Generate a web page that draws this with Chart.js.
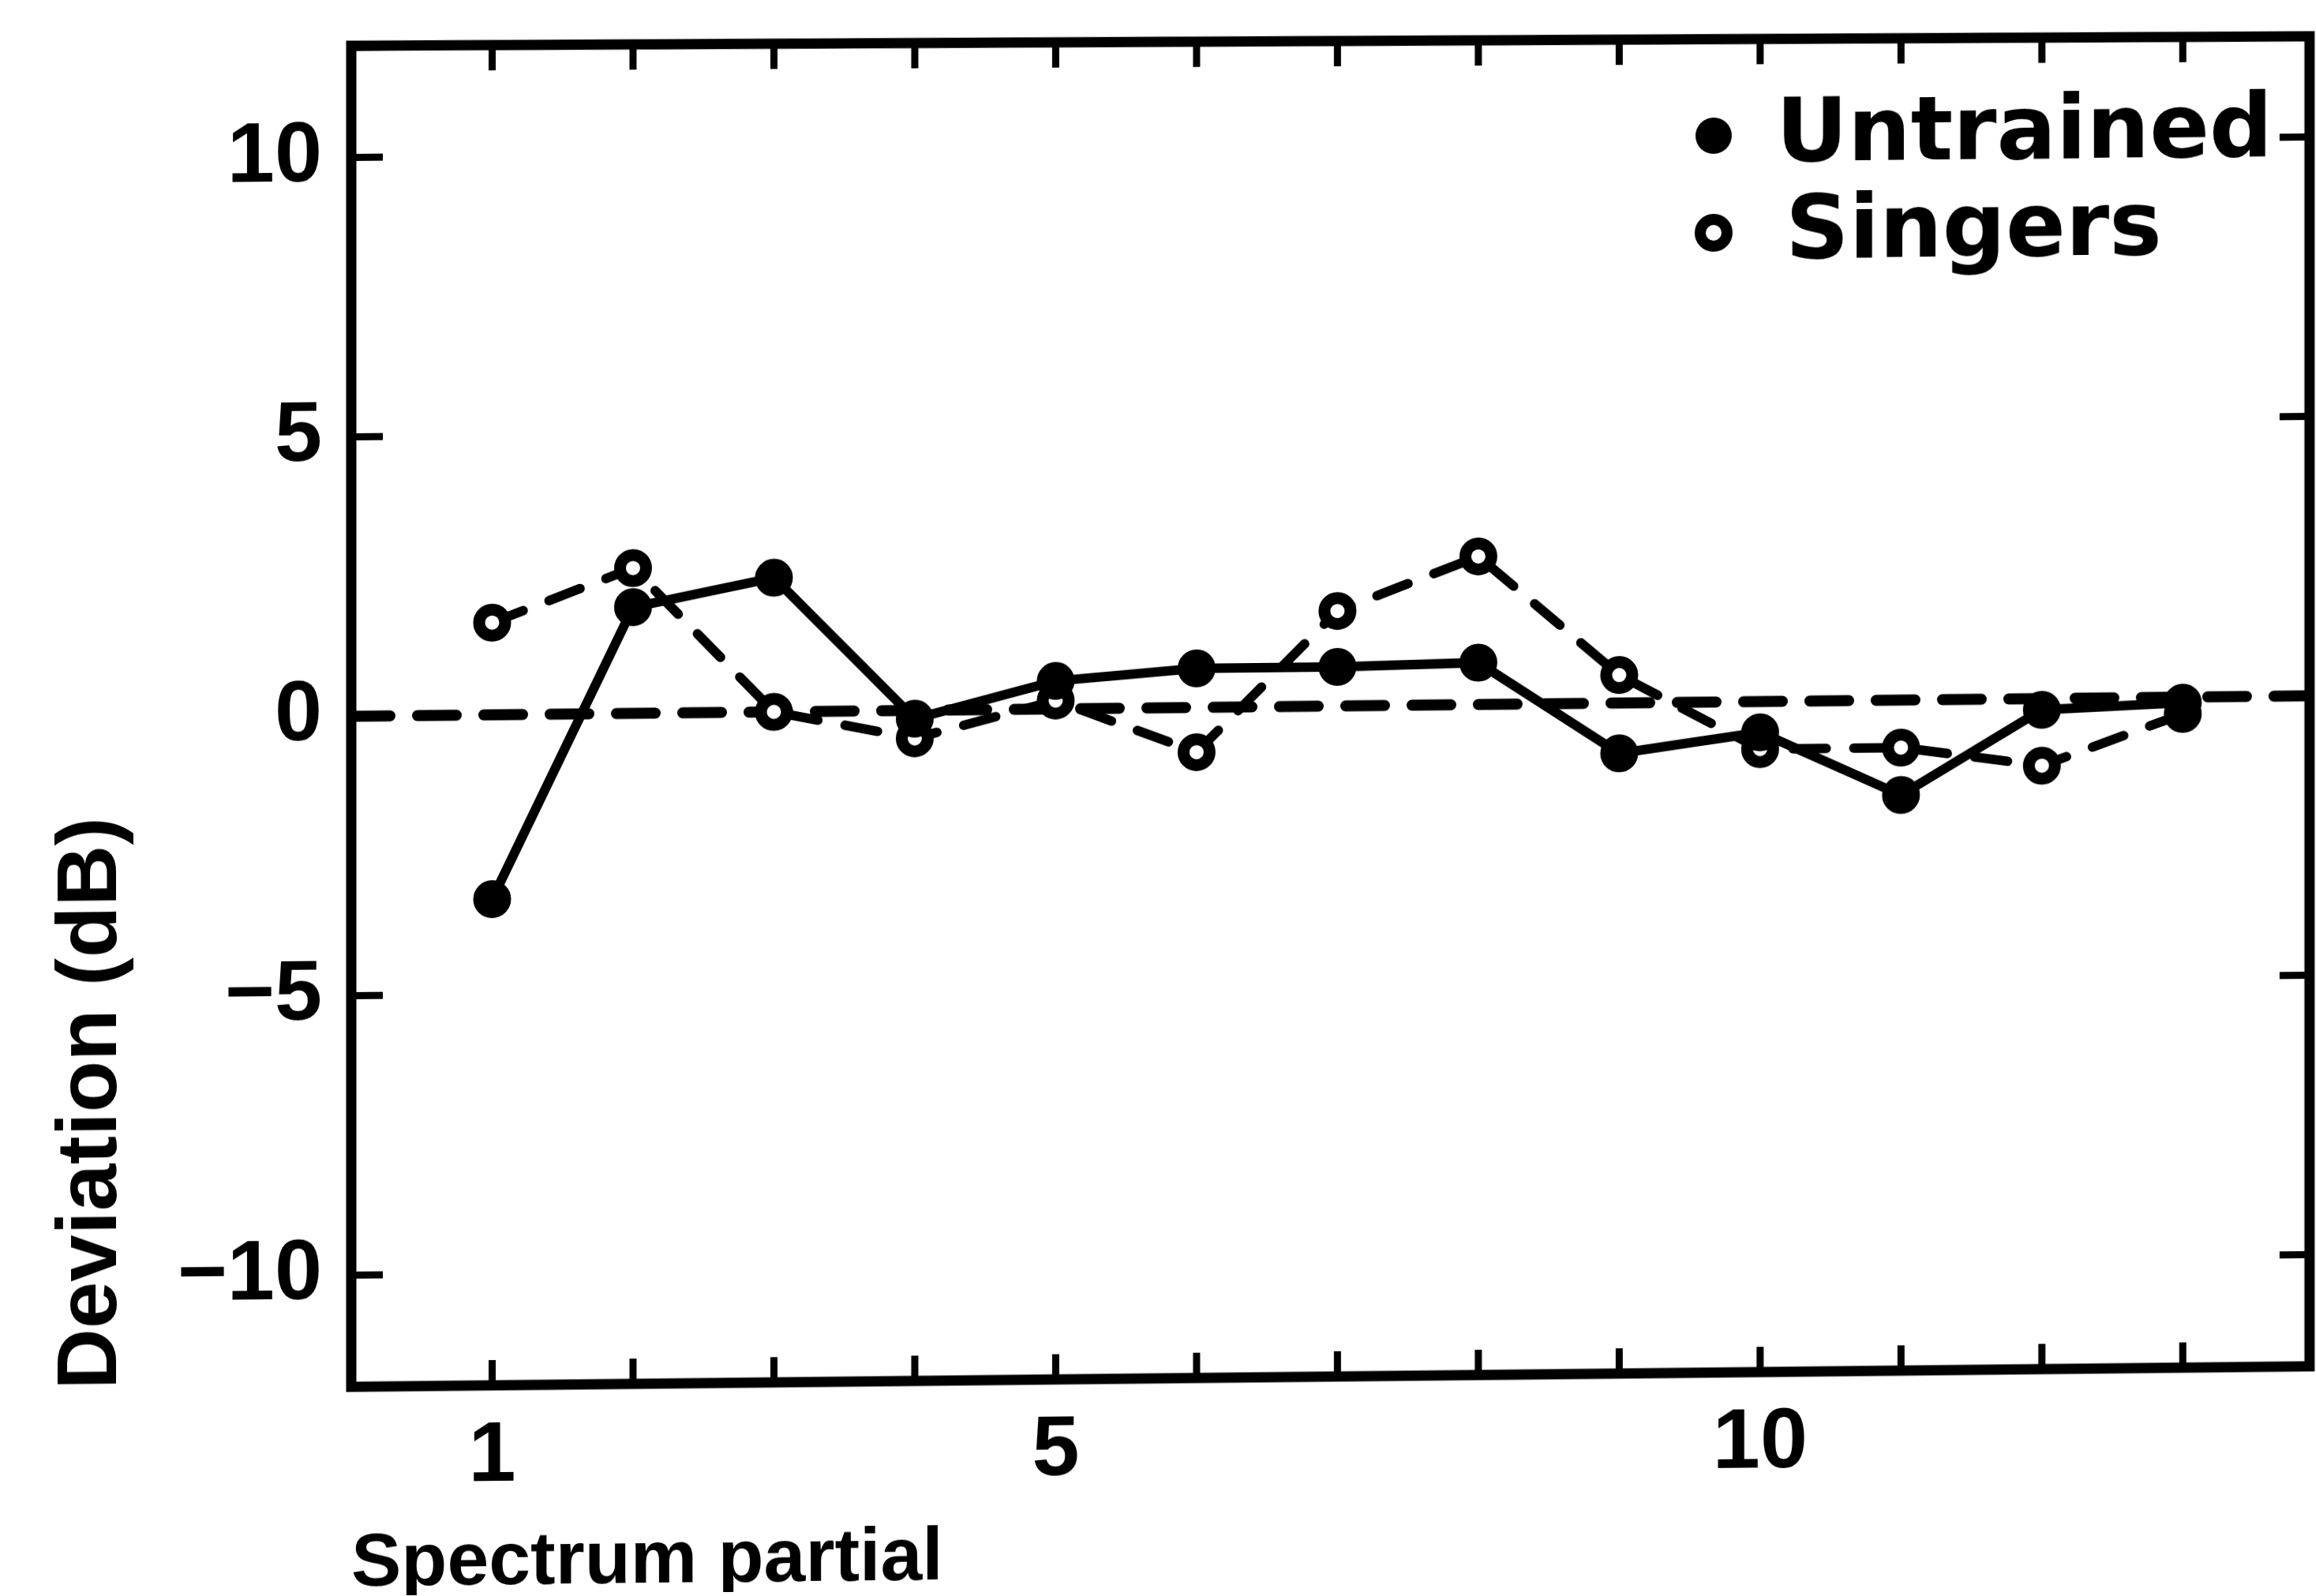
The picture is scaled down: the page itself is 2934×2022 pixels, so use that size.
<!DOCTYPE html>
<html>
<head>
<meta charset="utf-8">
<title>Deviation by spectrum partial</title>
<style>
  html, body { margin: 0; padding: 0; background: #fff; overflow: hidden; }
  #wrap { position: absolute; left: 0; top: 0; width: 2934px; height: 2022px;
          transform-origin: 445px 907px; transform: skewY(-0.6deg); }
  canvas { display: block; }
</style>
<script src="https://cdn.jsdelivr.net/npm/chart.js@4.4.1/dist/chart.umd.min.js"></script>
</head>
<body>
<div id="wrap"><canvas id="chart" width="2934" height="2022"></canvas></div>
<script>
// Spectrum partial numbers (x) and level deviation in dB (y) for each group
const partials  = [1, 2, 3, 4, 5, 6, 7, 8, 9, 10, 11, 12, 13];
const untrained = [-3.3, 1.9, 2.4, -0.15, 0.5, 0.7, 0.7, 0.75, -0.9, -0.55, -1.7, -0.2, -0.1];
const singers   = [1.65, 2.6, 0.0, -0.5, 0.15, -0.8, 1.7, 2.65, 0.5, -0.85, -0.85, -1.2, -0.3];
const seriesNames = ['Untrained', 'Singers'];

// Axis ranges and ticks
const xRange = [0, 13.9];
const yRange = [-12, 12];
const yTickValues = [-10, -5, 0, 5, 10];
const xLabelledTicks = [1, 5, 10];
const referenceLevel = 0;

const toPoints = vals => vals.map((v, i) => ({ x: partials[i], y: v }));

// Frame with inward ticks on all four sides, plus the key in the upper right
const framePlugin = {
  id: 'frameAndKey',
  afterDraw(chart) {
    const { ctx, chartArea: a, scales: { x, y } } = chart;
    // the printed top rule sags slightly toward the right
    const topDrop = 14;
    const topAt = px => a.top + topDrop * (px - a.left) / (a.right - a.left);

    ctx.save();
    ctx.strokeStyle = '#000';
    ctx.lineCap = 'butt';
    const seg = (x1, y1, x2, y2) => { ctx.beginPath(); ctx.moveTo(x1, y1); ctx.lineTo(x2, y2); ctx.stroke(); };

    ctx.lineWidth = 9;
    x.ticks.forEach(t => {
      const px = x.getPixelForValue(t.value);
      seg(px, a.bottom, px, a.bottom - 32);
      seg(px, topAt(px), px, topAt(px) + 32);
    });
    y.ticks.forEach(t => {
      const py = y.getPixelForValue(t.value);
      seg(a.left, py, a.left + 40, py);
      seg(a.right, py, a.right - 38, py);
    });

    ctx.lineWidth = 13;
    ctx.lineJoin = 'miter';
    ctx.beginPath();
    ctx.moveTo(a.left, a.top);
    ctx.lineTo(a.right, topAt(a.right));
    ctx.lineTo(a.right, a.bottom);
    ctx.lineTo(a.left, a.bottom);
    ctx.closePath();
    ctx.stroke();

    // Key
    const keyX = 2171, keyY = [190, 313], textX = [2250, 2262];
    ctx.font = 'bold 112px "DejaVu Sans"';
    ctx.textBaseline = 'middle';
    ctx.textAlign = 'left';
    ctx.fillStyle = '#000';
    chart.data.datasets.filter(d => seriesNames.includes(d.label)).forEach((d, i) => {
      const cy = keyY[i];
      ctx.beginPath();
      if (d.pointBackgroundColor === '#000') {
        ctx.arc(keyX, cy, 23, 0, Math.PI * 2);
        ctx.fill();
      } else {
        ctx.lineWidth = 14;
        ctx.arc(keyX, cy, 17, 0, Math.PI * 2);
        ctx.stroke();
      }
      ctx.fillText(d.label, textX[i], cy + 4);
    });
    ctx.restore();
  }
};

new Chart(document.getElementById('chart'), {
  type: 'line',
  data: {
    datasets: [
      {
        label: seriesNames[0],
        data: toPoints(untrained),
        borderColor: '#000',
        borderWidth: 12,
        pointRadius: 22,
        pointBorderWidth: 4,
        pointBackgroundColor: '#000',
        pointBorderColor: '#000',
        order: 1
      },
      {
        label: seriesNames[1],
        data: toPoints(singers),
        borderColor: '#000',
        borderWidth: 12,
        borderDash: [42, 35],
        borderCapStyle: 'round',
        pointRadius: 16.5,
        pointBorderWidth: 15,
        pointBackgroundColor: '#fff',
        pointBorderColor: '#000',
        order: 2
      },
      {
        label: 'reference',
        data: [{ x: xRange[0], y: referenceLevel }, { x: xRange[1], y: referenceLevel }],
        borderColor: '#000',
        borderWidth: 14,
        borderDash: [49, 35],
        borderCapStyle: 'round',
        pointRadius: 0,
        order: 3
      }
    ]
  },
  options: {
    responsive: false,
    animation: false,
    devicePixelRatio: 1,
    parsing: false,
    elements: { line: { tension: 0 } },
    layout: { autoPadding: false, padding: { top: 58, right: 8, left: 0, bottom: 0 } },
    plugins: { legend: { display: false }, tooltip: { enabled: false } },
    scales: {
      x: {
        type: 'linear',
        min: xRange[0],
        max: xRange[1],
        afterBuildTicks: s => { s.ticks = partials.map(v => ({ value: v })); },
        afterFit: s => { s.height = 265; s.paddingLeft = 0; s.paddingRight = 0; },
        grid: { display: false, drawTicks: false },
        border: { display: false },
        ticks: {
          autoSkip: false,
          maxRotation: 0,
          padding: 26,
          color: '#000',
          font: { family: 'Liberation Sans', weight: 'bold', size: 108 },
          callback: v => xLabelledTicks.includes(v) ? String(v) : ''
        },
        title: {
          display: true,
          text: 'Spectrum partial',
          align: 'start',
          color: '#000',
          font: { family: 'Liberation Sans', weight: 'bold', size: 95, lineHeight: 0.7 },
          padding: { top: 0, bottom: 6 }
        }
      },
      y: {
        type: 'linear',
        min: yRange[0],
        max: yRange[1],
        afterBuildTicks: s => { s.ticks = yTickValues.map(v => ({ value: v })); },
        afterFit: s => { s.width = 445; s.paddingTop = 0; s.paddingBottom = 0; },
        grid: { display: false, drawTicks: false },
        border: { display: false },
        ticks: {
          padding: 37,
          color: '#000',
          font: { family: 'Liberation Sans', weight: 'bold', size: 108 },
          callback: v => v < 0 ? '\u2212' + Math.abs(v) : String(v)
        },
        title: {
          display: true,
          text: 'Deviation (dB)',
          align: 'start',
          color: '#000',
          font: { family: 'Liberation Sans', weight: 'bold', size: 107, lineHeight: 1.2 },
          padding: { top: 53, bottom: 0 }
        }
      }
    }
  },
  plugins: [framePlugin]
});
</script>
</body>
</html>
